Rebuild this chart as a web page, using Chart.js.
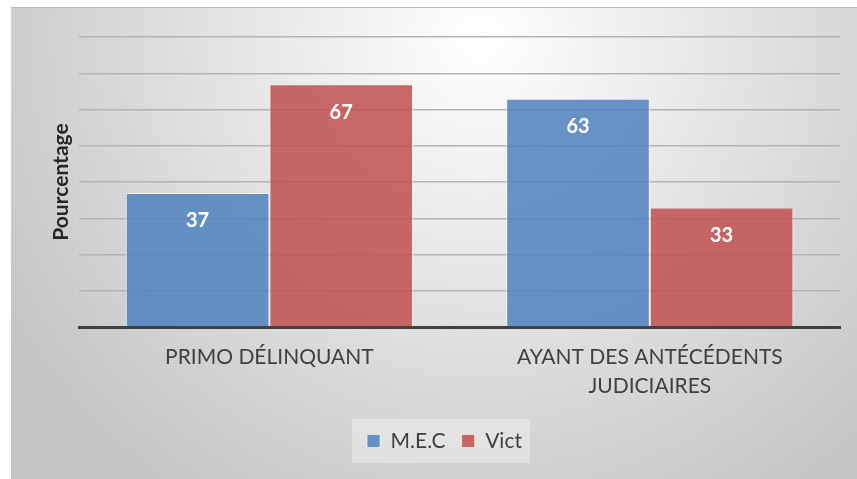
<!DOCTYPE html>
<html>
<head>
<meta charset="utf-8">
<script src="https://cdn.jsdelivr.net/npm/chart.js@4.4.1/dist/chart.umd.min.js"></script>
<style>
  html, body { margin: 0; padding: 0; background: #fff; }
  #box { position: absolute; left: 11px; top: 7px; width: 846px; height: 472px; }
</style>
</head>
<body>
<div id="box"><canvas id="canvas" width="846" height="472"></canvas></div>
<script>
"use strict";

const categories = ['PRIMO DÉLINQUANT', ['AYANT DES ANTÉCÉDENTS', 'JUDICIAIRES']];
const mecValues = [37, 63];
const victValues = [67, 33];
const yMin = 0;
const yMax = 80;
const yStep = 10;

const fontName = 'Lato, "Open Sans", sans-serif';

// gradient background like the office chart
const backgroundPlugin = {
    id: 'bg',
    beforeDraw: function (chart) {
        const ctx = chart.ctx;
        const g = ctx.createRadialGradient(470, 30, 0, 470, 30, 560);
        g.addColorStop(0, '#ffffff');
        g.addColorStop(1, '#c4c4c4');
        ctx.save();
        ctx.fillStyle = g;
        ctx.fillRect(0, 0, chart.width, chart.height);
        ctx.strokeStyle = '#bdbdbd';
        ctx.lineWidth = 1;
        ctx.beginPath();
        ctx.moveTo(0, 0.5);
        ctx.lineTo(chart.width, 0.5);
        ctx.stroke();

        // lighter panel behind the legend
        const boxes = chart.legend.legendHitBoxes;
        if (boxes && boxes.length) {
            const first = boxes[0], last = boxes[boxes.length - 1];
            const midY = first.top + first.height / 2;
            ctx.fillStyle = 'rgba(255,255,255,0.35)';
            ctx.fillRect(first.left - 15, midY - 22, last.left + last.width - first.left + 23, 44);
        }
        ctx.restore();
    }
};

const valueLabels = {
    id: 'valueLabels',
    afterDatasetsDraw: function (chart) {
        const ctx = chart.ctx;
        ctx.save();
        ctx.fillStyle = '#ffffff';
        ctx.font = 'bold 20px ' + fontName;
        ctx.textAlign = 'center';
        ctx.textBaseline = 'middle';
        chart.data.datasets.forEach(function (ds, i) {
            chart.getDatasetMeta(i).data.forEach(function (bar, j) {
                ctx.fillText(ds.data[j], bar.x, bar.y + 28);
            });
        });
        ctx.restore();
    }
};

const ctx = document.getElementById('canvas').getContext('2d');
window.myBar = new Chart(ctx, {
    type: 'bar',
    data: {
        labels: categories,
        datasets: [{
            label: 'M.E.C',
            data: mecValues,
            backgroundColor: 'rgba(79,129,189,0.85)',
            borderColor: 'rgba(255,255,255,0.6)',
            borderWidth: 1
        }, {
            label: 'Vict',
            data: victValues,
            backgroundColor: 'rgba(192,80,77,0.85)',
            borderColor: 'rgba(255,255,255,0.6)',
            borderWidth: 1
        }]
    },
    options: {
        responsive: false,
        animation: false,
        datasets: {
            bar: { categoryPercentage: 0.755, barPercentage: 1.0 }
        },
        layout: {
            padding: { left: 38, right: 17, top: 30, bottom: 17.5 }
        },
        scales: {
            x: {
                grid: { display: false, drawTicks: false },
                border: { color: '#404040', width: 3 },
                ticks: {
                    color: '#404040',
                    padding: 16,
                    font: { family: fontName, size: 21, lineHeight: 1.38 }
                },
                afterFit: function (scale) {
                    scale.height -= 2.5;
                }
            },
            y: {
                min: yMin,
                max: yMax,
                grid: { color: '#b4b4b4', lineWidth: 1.5, drawTicks: false },
                border: { display: false },
                ticks: { display: false, stepSize: yStep },
                title: {
                    display: true,
                    text: 'Pourcentage',
                    color: '#262626',
                    font: { family: fontName, size: 21, weight: 'bold', lineHeight: 1.2 },
                    padding: { top: 0, bottom: 5 }
                }
            }
        },
        plugins: {
            legend: {
                position: 'bottom',
                labels: {
                    color: '#404040',
                    boxWidth: 13,
                    boxHeight: 13,
                    padding: 16,
                    font: { family: fontName, size: 21 }
                }
            },
            tooltip: { enabled: false }
        }
    },
    plugins: [backgroundPlugin, valueLabels]
});
</script>
</body>
</html>
